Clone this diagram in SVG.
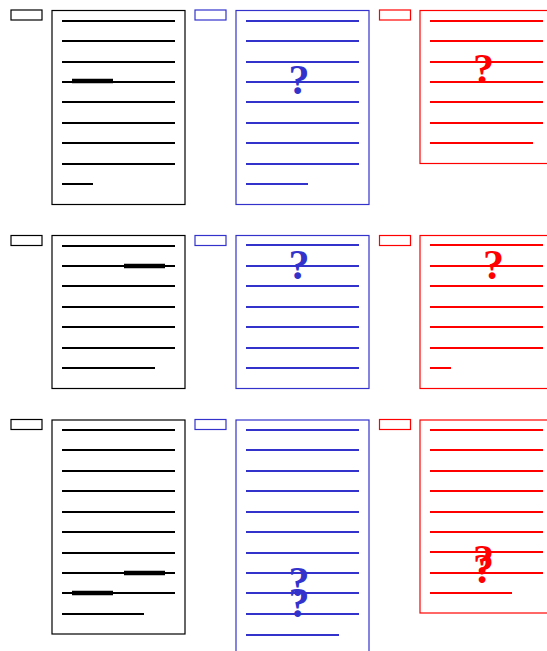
<svg xmlns="http://www.w3.org/2000/svg" width="547" height="651" viewBox="0 0 547 651">
<style>
.bk{stroke:#000;fill:none}
.bl{stroke:#3333cc;fill:none}
.rd{stroke:#ff0000;fill:none}
.box{stroke-width:1.2;fill:#fff}
.tag{stroke-width:1.2;fill:#fff}
.ln{stroke-width:2}
.bar{stroke-width:4.5}
.q{font-family:"Liberation Serif","Times New Roman",serif;font-weight:bold;font-size:42px;text-anchor:middle}
</style>
<rect width="547" height="651" fill="#fff"/>

<!-- Row 1 -->
<g id="r1-black">
<rect class="bk tag" x="11" y="10" width="31" height="10"/>
<rect class="bk box" x="52" y="10.5" width="133" height="194"/>
<path class="bk ln" d="M62 21H175M62 41H175M62 62H175M62 82H175M62 102H175M62 123H175M62 143H175M62 164H175M62 184H93"/>
<path class="bk bar" d="M72 81H113"/>
</g>
<g id="r1-blue">
<rect class="bl tag" x="195" y="10" width="31" height="10"/>
<rect class="bl box" x="236" y="10.5" width="133" height="194"/>
<path class="bl ln" d="M246 21H359M246 41H359M246 62H359M246 82H359M246 102H359M246 123H359M246 143H359M246 164H359M246 184H308"/>
<text class="q" x="299" y="94" fill="#3333cc">?</text>
</g>
<g id="r1-red">
<rect class="rd tag" x="379.5" y="10" width="31" height="10"/>
<rect class="rd box" x="420" y="10.5" width="140" height="153"/>
<path class="rd ln" d="M430 21H543M430 41H543M430 62H543M430 82H543M430 102H543M430 123H543M430 143H533"/>
<text class="q" x="483.5" y="83" fill="#ff0000">?</text>
</g>

<!-- Row 2 -->
<g id="r2-black">
<rect class="bk tag" x="11" y="235.5" width="31" height="10"/>
<rect class="bk box" x="52" y="235.5" width="133" height="153"/>
<path class="bk ln" d="M62 246H175M62 266H175M62 286H175M62 307H175M62 327H175M62 348H175M62 368H155"/>
<path class="bk bar" d="M124 266H165"/>
</g>
<g id="r2-blue">
<rect class="bl tag" x="195" y="235.5" width="31" height="10"/>
<rect class="bl box" x="236" y="235.5" width="133" height="153"/>
<path class="bl ln" d="M246 245H359M246 266H359M246 286H359M246 307H359M246 327H359M246 348H359M246 368H359"/>
<text class="q" x="299" y="278.5" fill="#3333cc">?</text>
</g>
<g id="r2-red">
<rect class="rd tag" x="379.5" y="235.5" width="31" height="10"/>
<rect class="rd box" x="420" y="235.5" width="140" height="153"/>
<path class="rd ln" d="M430 245H543M430 266H543M430 286H543M430 307H543M430 327H543M430 348H543M430 368H451"/>
<text class="q" x="493.5" y="278.5" fill="#ff0000">?</text>
</g>

<!-- Row 3 -->
<g id="r3-black">
<rect class="bk tag" x="11" y="419.5" width="31" height="10"/>
<rect class="bk box" x="52" y="420" width="133" height="214"/>
<path class="bk ln" d="M62 430H175M62 450H175M62 471H175M62 491H175M62 512H175M62 532H175M62 553H175M62 573H175M62 593H175M62 614H144"/>
<path class="bk bar" d="M124 573H165M72 593H113"/>
</g>
<g id="r3-blue">
<rect class="bl tag" x="195" y="419.5" width="31" height="10"/>
<rect class="bl box" x="236" y="420" width="133" height="240"/>
<path class="bl ln" d="M246 430H359M246 450H359M246 471H359M246 491H359M246 512H359M246 532H359M246 553H359M246 573H359M246 593H359M246 614H359M246 635H339"/>
<text class="q" x="299" y="596" fill="#3333cc">?</text>
<text class="q" x="299" y="617" fill="#3333cc">?</text>
</g>
<g id="r3-red">
<rect class="rd tag" x="379.5" y="419.5" width="31" height="10"/>
<rect class="rd box" x="420" y="420" width="140" height="193"/>
<path class="rd ln" d="M430 430H543M430 450H543M430 471H543M430 491H543M430 512H543M430 532H543M430 552H543M430 573H543M430 593H512"/>
<text class="q" x="483.5" y="574" fill="#ff0000">?</text>
<text class="q" x="483.5" y="583" fill="#ff0000">?</text>
</g>
</svg>
